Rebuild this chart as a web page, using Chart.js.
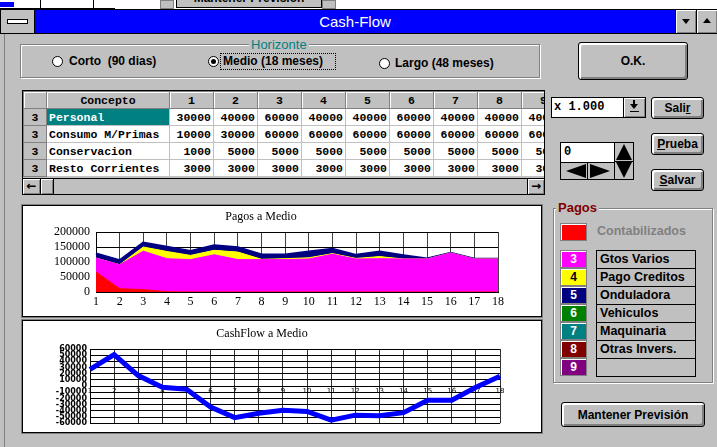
<!DOCTYPE html>
<html>
<head>
<meta charset="utf-8">
<script src="https://cdn.jsdelivr.net/npm/chart.js@4.4.1/dist/chart.umd.min.js"></script>
<style>
  body { margin: 0; width: 717px; height: 447px; overflow: hidden; background: #c0c0c0; position: relative;
         font-family: "Liberation Sans", Arial, sans-serif; }
  .a { position: absolute; box-sizing: border-box; }
  .btn { position: absolute; box-sizing: border-box; background: #c0c0c0; border: 1px solid #000; border-radius: 3px;
         box-shadow: inset 2px 2px 0 #fff, inset -2px -2px 0 #808080;
         font: bold 12px "Liberation Sans", Arial, sans-serif; color: #000;
         display: flex; align-items: center; justify-content: center; }
  .etch { position: absolute; box-sizing: border-box; border: 1px solid #808080; box-shadow: 1px 1px 0 #fff, inset 1px 1px 0 #fff; }
  .radio { position: absolute; width: 11px; height: 11px; border: 1px solid #000; border-radius: 50%; background: #fff; box-sizing: border-box; }
  .radio.on::after { content: ""; position: absolute; left: 2px; top: 2px; width: 5px; height: 5px; border-radius: 50%; background: #000; }
  .lbl { position: absolute; font: bold 12px "Liberation Sans", Arial, sans-serif; white-space: nowrap; }
  table.grid { border-collapse: collapse; table-layout: fixed; font: bold 11.5px "Liberation Mono", "Courier New", monospace; }
  table.grid td { height: 16px; border: 1px solid #c0c0c0; padding: 0 2px; white-space: nowrap; overflow: hidden; background: #fff; }
  table.grid td.n { text-align: right; }
  table.grid td.h { background: #c0c0c0; text-align: center; border-color: #808080; box-shadow: inset 1px 1px 0 #fff; }
  table.grid td.r { background: #c0c0c0; text-align: center; border-color: #808080; }
  .sw { position: absolute; box-sizing: border-box; width: 27px; height: 18px; border: 1px solid #808080;
        box-shadow: inset 1px 1px 0 #fff; font: bold 12px "Liberation Sans", Arial, sans-serif;
        color: #fff; text-align: center; line-height: 16px; }
  .row { position: absolute; box-sizing: border-box; left: 596px; width: 100px; height: 19px; border: 1px solid #000;
         font: bold 12.5px "Liberation Sans", Arial, sans-serif; padding-left: 3px; line-height: 17px; }
  .panel { position: absolute; box-sizing: border-box; background: #fff; border: 1px solid #000; box-shadow: 0 0 0 1px #808080; }
  .tri { position: absolute; width: 0; height: 0; }
</style>
</head>
<body>

<!-- fragmento de la ventana de atras -->
<div class="a" style="left:0;top:0;width:717px;height:9px;background:#fff;"></div>
<div class="a" style="left:0;top:0;width:115px;height:9px;border-bottom:1px solid #000;"></div>
<div class="a" style="left:0;top:2px;width:14px;height:5px;background:#0000ff;"></div>
<div class="a" style="left:40px;top:0;width:1px;height:9px;background:#000;"></div>
<div class="a" style="left:93px;top:0;width:1px;height:9px;background:#000;"></div>
<div class="a" style="left:160px;top:0;width:14px;height:9px;background:#c0c0c0;border:1px solid #808080;"></div>
<div class="a" style="left:176px;top:-12px;width:146px;height:20px;background:#c0c0c0;border:1px solid #000;font:bold 12px 'Liberation Sans';text-align:center;line-height:18px;">Mantener Prevision</div>
<div class="a" style="left:322px;top:0;width:14px;height:9px;background:#c0c0c0;border:1px solid #808080;"></div>

<!-- barra de titulo -->
<div class="a" style="left:0;top:9px;width:717px;height:25px;background:#000;"></div>
<div class="a" style="left:1px;top:10px;width:33px;height:23px;background:#c0c0c0;"></div>
<div class="a" style="left:7px;top:19px;width:21px;height:5px;background:#fff;border:1px solid #000;"></div>
<div class="a" style="left:35px;top:10px;width:640px;height:23px;background:#0000ff;color:#fff;font:15px 'Liberation Sans';text-align:center;line-height:23px;">Cash-Flow</div>
<div class="a" style="left:676px;top:10px;width:20px;height:23px;background:#c0c0c0;box-shadow:inset 1px 1px 0 #fff, inset -1px -1px 0 #808080;"></div>
<div class="tri" style="left:682px;top:19px;border-left:4px solid transparent;border-right:4px solid transparent;border-top:5px solid #000;"></div>
<div class="a" style="left:697px;top:10px;width:20px;height:23px;background:#c0c0c0;box-shadow:inset 1px 1px 0 #fff, inset -1px -1px 0 #808080;"></div>
<div class="tri" style="left:703px;top:18px;border-left:4px solid transparent;border-right:4px solid transparent;border-bottom:5px solid #000;"></div>
<div class="a" style="left:4px;top:34px;width:1px;height:413px;background:#808080;"></div>

<!-- Horizonte -->
<div class="etch" style="left:20px;top:44px;width:520px;height:34px;"></div>
<div class="lbl" style="left:249px;top:37px;font-weight:normal;font-size:13px;color:#008080;background:#c0c0c0;padding:0 2px;">Horizonte</div>
<div class="radio" style="left:52px;top:56px;"></div>
<div class="lbl" style="left:69px;top:54px;">Corto&nbsp; (90 dias)</div>
<div class="radio on" style="left:208px;top:56px;"></div>
<div class="a" style="left:220px;top:53px;width:116px;height:17px;border:1px dotted #000;"></div>
<div class="lbl" style="left:223px;top:54px;">Medio (18 meses)</div>
<div class="radio" style="left:379px;top:58px;"></div>
<div class="lbl" style="left:395px;top:56px;">Largo (48 meses)</div>
<div class="btn" style="left:578px;top:42px;width:110px;height:38px;">O.K.</div>

<!-- tabla de conceptos -->
<div class="a" style="left:22px;top:90px;width:523px;height:105px;border:1px solid #000;background:#c0c0c0;overflow:hidden;">
  <table class="grid" id="tabla" style="width:582px;">
    <colgroup><col style="width:23px"><col style="width:123px"><col style="width:44px"><col style="width:44px"><col style="width:44px"><col style="width:44px"><col style="width:44px"><col style="width:44px"><col style="width:44px"><col style="width:44px"><col style="width:44px"><col style="width:40px"></colgroup>
  </table>
  <div class="a" style="left:0;top:87px;width:521px;height:1px;background:#000;"></div>
  <div class="a" style="left:0;top:88px;width:18px;height:15px;border-right:1px solid #000;box-shadow:inset 1px 1px 0 #fff, inset -1px -1px 0 #808080;font:bold 12px 'DejaVu Sans';text-align:center;line-height:14px;">&#8592;</div>
  <div class="a" style="left:18px;top:88px;width:13px;height:15px;border-right:1px solid #000;box-shadow:inset 1px 1px 0 #fff, inset -1px -1px 0 #808080;"></div>
  <div class="a" style="left:504px;top:88px;width:17px;height:15px;border-left:1px solid #000;box-shadow:inset 1px 1px 0 #fff, inset -1px -1px 0 #808080;font:bold 12px 'DejaVu Sans';text-align:center;line-height:14px;">&#8594;</div>
</div>

<!-- controles de la derecha -->
<div class="a" style="left:551px;top:97px;width:95px;height:21px;background:#fff;border:1px solid #000;font:bold 12px 'Liberation Mono';line-height:19px;padding-left:2px;">x 1.000</div>
<div class="a" style="left:623px;top:97px;width:23px;height:21px;background:#c0c0c0;border:1px solid #000;box-shadow:inset 1px 1px 0 #fff, inset -1px -1px 0 #808080;"></div>
<div class="tri" style="left:630px;top:104px;border-left:4px solid transparent;border-right:4px solid transparent;border-top:5px solid #000;"></div>
<div class="a" style="left:633px;top:100px;width:2px;height:5px;background:#000;"></div>
<div class="a" style="left:630px;top:111px;width:9px;height:1px;background:#000;"></div>
<div class="btn" style="left:651px;top:97px;width:53px;height:22px;">Sali<u>r</u></div>
<div class="btn" style="left:651px;top:133px;width:53px;height:22px;"><u>P</u>rueba</div>
<div class="btn" style="left:651px;top:169px;width:53px;height:22px;"><u>S</u>alvar</div>
<div class="a" style="left:560px;top:142px;width:55px;height:21px;background:#fff;border:1px solid #000;font:bold 12px 'Liberation Mono';line-height:19px;padding-left:3px;">0</div>
<div class="a" style="left:560px;top:162px;width:28px;height:18px;background:#c0c0c0;border:1px solid #000;"></div>
<div class="a" style="left:587px;top:162px;width:28px;height:18px;background:#c0c0c0;border:1px solid #000;"></div>
<div class="tri" style="left:566px;top:164px;border-top:7px solid transparent;border-bottom:7px solid transparent;border-right:20px solid #000;"></div>
<div class="tri" style="left:590px;top:164px;border-top:7px solid transparent;border-bottom:7px solid transparent;border-left:20px solid #000;"></div>
<div class="a" style="left:614px;top:142px;width:20px;height:20px;background:#c0c0c0;border:1px solid #000;"></div>
<div class="a" style="left:614px;top:161px;width:20px;height:19px;background:#c0c0c0;border:1px solid #000;"></div>
<div class="tri" style="left:616px;top:144px;border-left:8px solid transparent;border-right:8px solid transparent;border-bottom:16px solid #000;"></div>
<div class="tri" style="left:616px;top:162px;border-left:8px solid transparent;border-right:8px solid transparent;border-top:16px solid #000;"></div>

<!-- graficos -->
<div class="panel" style="left:22px;top:205px;width:520px;height:112px;"></div>
<canvas id="pagos" class="a" style="left:24px;top:207px;" width="516" height="108"></canvas>
<div class="panel" style="left:22px;top:320px;width:520px;height:113px;"></div>
<canvas id="cashflow" class="a" style="left:24px;top:322px;" width="516" height="109"></canvas>

<!-- leyenda Pagos -->
<div class="etch" style="left:553px;top:208px;width:160px;height:175px;"></div>
<div class="lbl" style="left:556px;top:200px;font-size:13px;color:#800000;background:#c0c0c0;padding:0 2px;">Pagos</div>
<div class="sw" style="left:560px;top:223px;background:#ff0000;"></div>
<div class="lbl" style="left:597px;top:224px;font-size:12.5px;color:#808080;">Contabilizados</div>
<div id="leyenda"></div>

<div class="btn" style="left:561px;top:402px;width:144px;height:25px;">Mantener Previsión</div>

<script>
// meses del horizonte medio
const meses = ['1', '2', '3', '4', '5', '6', '7', '8', '9', '10', '11', '12', '13', '14', '15', '16', '17', '18'];

// pagos por grupo (apilados)
const contabilizados = [67000, 11000, 8000, 1000, 0, 0, 0, 0, 0, 0, 0, 0, 0, 0, 0, 0, 0, 0];
const gtosVarios = [46000, 80000, 128000, 110000, 108000, 124000, 108000, 108000, 108000, 110000, 126000, 110000, 111000, 110000, 110000, 130000, 110000, 110000];
const pagoCreditos = [0, 0, 14000, 24000, 14000, 15000, 25000, 1000, 3000, 4000, 2000, 2000, 7000, 0, 0, 0, 0, 0];
const onduladora = [15000, 14000, 14000, 15000, 14000, 16000, 15000, 15000, 13000, 20000, 15000, 11000, 16000, 12000, 1000, 0, 0, 0];
const maquinaria = [0, 0, 0, 0, 0, 2000, 2000, 0, 0, 0, 0, 0, 0, 0, 0, 0, 0, 0];
const pagosTicks = [0, 50000, 100000, 150000, 200000];

// saldo de caja
const cashFlow = [27000, 51000, 17000, -2000, -5000, -34000, -51000, -44000, -39000, -41000, -55000, -47000, -48000, -43000, -23000, -23000, -2000, 16000];

// tabla de conceptos
const columnas = ['1', '2', '3', '4', '5', '6', '7', '8', '9'];
const conceptos = ['Personal', 'Consumo M/Primas', 'Conservacion', 'Resto Corrientes'];
const importes = [
  [30000, 40000, 60000, 40000, 40000, 60000, 40000, 40000, 40000],
  [10000, 30000, 60000, 60000, 60000, 60000, 60000, 60000, 60000],
  [1000, 5000, 5000, 5000, 5000, 5000, 5000, 5000, 5000],
  [3000, 3000, 3000, 3000, 3000, 3000, 3000, 3000, 3000]
];

// leyenda de grupos
const grupos = ['3', '4', '5', '6', '7', '8', '9'];
const gruposNombre = ['Gtos Varios', 'Pago Creditos', 'Onduladora', 'Vehiculos', 'Maquinaria', 'Otras Invers.', ''];
const gruposColor = ['#ff00ff', '#ffff00', '#000080', '#008000', '#008080', '#800000', '#800080'];

// montar la tabla
const tabla = document.getElementById('tabla');
let html = '<tr><td class="h"></td><td class="h">Concepto</td>';
columnas.forEach(c => { html += '<td class="h">' + c + '</td>'; });
html += '<td class="h"></td></tr>';
conceptos.forEach((c, i) => {
  const estilo = i === 0 ? ' style="background:#008080;color:#fff;"' : '';
  html += '<tr><td class="r">3</td><td' + estilo + '>' + c + '</td>';
  importes[i].forEach(v => { html += '<td class="n">' + v + '</td>'; });
  html += '<td></td></tr>';
});
tabla.insertAdjacentHTML('beforeend', html);

// montar la leyenda
const leyenda = document.getElementById('leyenda');
grupos.forEach((g, i) => {
  const top = 250 + i * 18;
  const txt = gruposColor[i] === '#ffff00' ? '#000' : '#fff';
  leyenda.insertAdjacentHTML('beforeend',
    '<div class="sw" style="left:560px;top:' + top + 'px;background:' + gruposColor[i] + ';color:' + txt + ';">' + g + '</div>' +
    '<div class="row" style="top:' + top + 'px;">' + gruposNombre[i] + '</div>');
});

const serif = { family: 'Liberation Serif', size: 12 };

new Chart(document.getElementById('pagos'), {
  type: 'line',
  data: {
    labels: meses,
    datasets: [
      { label: 'Contabilizados', data: contabilizados, backgroundColor: '#ff0000', borderColor: '#ff0000', fill: 'origin' },
      { label: 'Gtos Varios', data: gtosVarios, backgroundColor: '#ff00ff', borderColor: '#ff00ff', fill: '-1' },
      { label: 'Pago Creditos', data: pagoCreditos, backgroundColor: '#ffff00', borderColor: '#ffff00', fill: '-1' },
      { label: 'Onduladora', data: onduladora, backgroundColor: '#000080', borderColor: '#000080', borderWidth: 2.5, fill: '-1' },
      { label: 'Maquinaria', data: maquinaria, backgroundColor: '#008080', borderColor: '#008080', borderWidth: 0, fill: '-1' }
    ]
  },
  options: {
    responsive: false,
    animation: false,
    elements: { point: { radius: 0 }, line: { borderWidth: 1, tension: 0 } },
    layout: { padding: { left: 0, right: 42, top: 0, bottom: 0 } },
    plugins: {
      legend: { display: false },
      tooltip: { enabled: false },
      title: { display: true, text: 'Pagos a Medio', color: '#000', font: { family: 'Liberation Serif', size: 12, weight: 'normal' }, padding: { top: 3, bottom: 7.6 } }
    },
    scales: {
      x: {
        grid: { color: '#404040', drawTicks: false },
        border: { color: '#000' },
        ticks: { padding: 3, color: '#000', font: serif, autoSkip: false, maxRotation: 0 },
        afterFit: s => { s.height = 23; }
      },
      y: {
        stacked: true, min: 0, max: 200000,
        grid: { color: '#000', drawTicks: false },
        border: { color: '#000' },
        afterBuildTicks: s => { s.ticks = pagosTicks.map(v => ({ value: v })); },
        ticks: { autoSkip: false, padding: 6, color: '#000', font: serif, callback: v => String(v) },
        afterFit: s => { s.width = 72; }
      }
    }
  }
});

new Chart(document.getElementById('cashflow'), {
  type: 'line',
  data: {
    labels: meses,
    datasets: [{ label: 'CashFlow', data: cashFlow, borderColor: '#0000ff', borderWidth: 5, pointRadius: 0, tension: 0, fill: false }]
  },
  options: {
    responsive: false,
    animation: false,
    layout: { padding: { left: 0, right: 40, top: 0, bottom: 6 } },
    plugins: {
      legend: { display: false },
      tooltip: { enabled: false },
      title: { display: true, text: 'CashFlow a Medio', color: '#000', font: { family: 'Liberation Serif', size: 12, weight: 'normal' }, padding: { top: 5, bottom: 7.6 } }
    },
    scales: {
      x: {
        position: { y: 0 },
        grid: { color: '#333', drawTicks: false },
        border: { color: '#000' },
        ticks: { padding: 1, color: '#000', font: { family: 'DejaVu Sans', size: 7 }, autoSkip: false, maxRotation: 0 }
      },
      y: {
        min: -60000, max: 60000,
        grid: { color: '#000', drawTicks: false },
        border: { color: '#000' },
        ticks: { stepSize: 10000, autoSkip: false, padding: 3, color: '#000', font: { family: 'DejaVu Sans', size: 8, weight: 'bold' }, callback: v => String(v) },
        afterFit: s => { s.width = 66; }
      }
    }
  }
});
</script>
</body>
</html>
